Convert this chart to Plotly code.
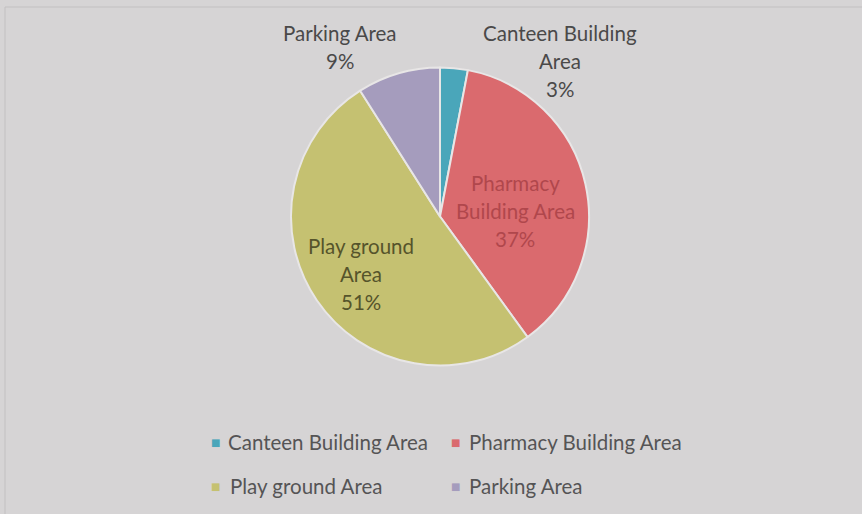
import plotly.graph_objects as go

labels = ["Canteen Building Area", "Pharmacy Building Area", "Play ground Area", "Parking Area"]
values = [3, 37, 51, 9]
colors = ["#4aa6ba", "#da6a6e", "#c5c171", "#a59cbd"]
# how each data label is wrapped on the chart
label_lines = [["Canteen Building", "Area"], ["Pharmacy", "Building Area"], ["Play ground", "Area"], ["Parking Area"]]
label_colors = ["#4a4949", "#b0474c", "#55542b", "#4a4949"]

W, H = 862, 514
FONT = "Lato"
FS = 20.5

# data-label anchors (pixels: centre x, first-line y)
label_px = [(560, 33), (515, 183), (361, 246), (340, 33)]
LINE = 28
# legend layout (pixels): marker x, text x, row y
legend_cells = [(215, 226, 442), (455, 467, 442), (215, 228, 486), (455, 467, 486)]

def px(x):
    return x / W

def py(y):
    return 1 - y / H

fig = go.Figure(go.Pie(
    labels=labels, values=values, sort=False, direction="clockwise", rotation=0,
    marker=dict(colors=colors, line=dict(color="#e8e6e6", width=2)),
    textinfo="none", hoverinfo="label+percent", showlegend=False,
    domain=dict(x=[px(291), px(589)], y=[py(366), py(67)]),
))

for lines, val, col, (x, y) in zip(label_lines, values, label_colors, label_px):
    for i, t in enumerate(lines + [f"{val}%"]):
        fig.add_annotation(x=px(x), y=py(y + i * LINE), xref="paper", yref="paper", text=t,
                           showarrow=False, xanchor="center", yanchor="middle",
                           font=dict(family=FONT, size=FS, color=col))

# legend
for lab, col, (mx, tx, y) in zip(labels, colors, legend_cells):
    fig.add_annotation(x=px(mx), y=py(y), xref="paper", yref="paper", text="■",
                       showarrow=False, xanchor="center", yanchor="middle",
                       font=dict(family="DejaVu Sans", size=10, color=col))
    fig.add_annotation(x=px(tx), y=py(y), xref="paper", yref="paper", text=lab,
                       showarrow=False, xanchor="left", yanchor="middle",
                       font=dict(family=FONT, size=FS, color="#555455"))

fig.add_shape(type="rect", xref="paper", yref="paper", x0=px(5), x1=px(870), y0=py(530), y1=py(7),
              line=dict(color="#c2c0c1", width=1), fillcolor="rgba(0,0,0,0)", layer="below")

fig.update_layout(
    width=W, height=H, margin=dict(l=0, r=0, t=0, b=0),
    paper_bgcolor="#d6d4d5", plot_bgcolor="#d6d4d5",
    font=dict(family=FONT, size=FS, color="#555455"),
    showlegend=False,
)
fig.write_html("out.html", config={"displayModeBar": False},
               post_script="document.body.style.margin='0';document.body.style.overflow='hidden';")
